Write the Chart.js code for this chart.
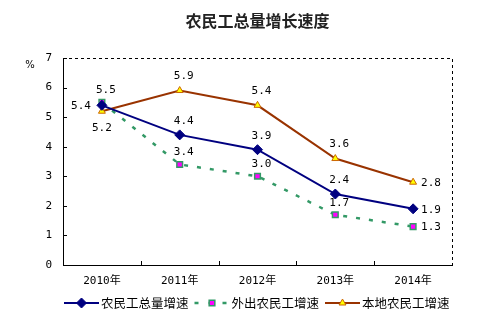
<!DOCTYPE html>
<html>
<head>
<meta charset="utf-8">
<script src="https://cdn.jsdelivr.net/npm/chart.js@4/dist/chart.umd.min.js"></script>
<style>
  html, body { margin: 0; padding: 0; background: #ffffff; }
  #wrap { width: 478px; height: 328px; }
</style>
</head>
<body>
<div id="wrap"><canvas id="c" width="478" height="328"></canvas></div>
<script>
// Growth rates of rural migrant workers, 2010-2014 (%)
const chartTitle = '农民工总量增长速度';
const unitLabel = '%';
const years = ['2010年', '2011年', '2012年', '2013年', '2014年'];
const seriesNames = ['农民工总量增速', '外出农民工增速', '本地农民工增速'];
const totalGrowth = [5.4, 4.4, 3.9, 2.4, 1.9];
const migrantGrowth = [5.5, 3.4, 3.0, 1.7, 1.3];
const localGrowth = [5.2, 5.9, 5.4, 3.6, 2.8];
const yTicks = [0, 1, 2, 3, 4, 5, 6, 7];

// where each value label sits relative to its point
const totalPlace = ['left', 'above', 'above', 'above', 'right'];
const migrantPlace = ['above', 'above', 'above', 'above', 'right'];
const localPlace = ['below', 'above', 'above', 'above', 'right'];

const NUM_FONT = '11px "DejaVu Sans Mono", "Noto Sans CJK SC", monospace';
const CJK_FONT = '12.5px "Noto Sans CJK SC", sans-serif';

const NAVY = '#000080', GREEN = '#339966', MAGENTA = '#ff00ff',
      BROWN = '#993300', YELLOW = '#ffff00', TRI_EDGE = '#cc6600';

const datasets = [
  {
    label: seriesNames[0], data: totalGrowth, place: totalPlace, lift: 14,
    borderColor: NAVY, backgroundColor: NAVY, borderWidth: 2,
    pointStyle: 'rectRot', pointRadius: 5, pointBorderWidth: 1,
    pointBackgroundColor: NAVY, pointBorderColor: NAVY, tension: 0
  },
  {
    label: seriesNames[1], data: migrantGrowth, place: migrantPlace, lift: 12,
    borderColor: GREEN, backgroundColor: GREEN, borderWidth: 2.5, borderDash: [4, 9],
    pointStyle: 'rect', pointRadius: 4, pointBorderWidth: 1.5,
    pointBackgroundColor: MAGENTA, pointBorderColor: GREEN, tension: 0
  },
  {
    label: seriesNames[2], data: localGrowth, place: localPlace, lift: 14,
    borderColor: BROWN, backgroundColor: BROWN, borderWidth: 2,
    pointStyle: 'triangle', pointRadius: 4, pointBorderWidth: 1,
    pointBackgroundColor: YELLOW, pointBorderColor: TRI_EDGE, tension: 0
  }
];

function drawMarker(ctx, ds, x, y) {
  ctx.save();
  ctx.setLineDash([]);
  ctx.lineWidth = ds.pointBorderWidth;
  ctx.fillStyle = ds.pointBackgroundColor;
  ctx.strokeStyle = ds.pointBorderColor;
  Chart.helpers.drawPoint(ctx, { pointStyle: ds.pointStyle, radius: ds.pointRadius, rotation: 0, borderWidth: ds.pointBorderWidth }, x, y);
  ctx.restore();
}

// frame: solid left/bottom axes, dashed top/right edges, short inward ticks
const framePlugin = {
  id: 'frame',
  beforeDatasetsDraw(chart) {
    const { ctx, chartArea: a, scales } = chart;
    ctx.save();
    ctx.strokeStyle = '#000';
    ctx.lineWidth = 1;
    ctx.setLineDash([3, 3]);
    ctx.beginPath();
    ctx.moveTo(a.left, a.top + 0.5);
    ctx.lineTo(a.right + 0.5, a.top + 0.5);
    ctx.lineTo(a.right + 0.5, a.bottom);
    ctx.stroke();
    ctx.setLineDash([]);
    ctx.beginPath();
    ctx.moveTo(a.left + 0.5, a.top);
    ctx.lineTo(a.left + 0.5, a.bottom + 0.5);
    ctx.lineTo(a.right + 1, a.bottom + 0.5);
    // y ticks
    scales.y.ticks.forEach(t => {
      const py = Math.round(scales.y.getPixelForValue(t.value)) + 0.5;
      ctx.moveTo(a.left, py);
      ctx.lineTo(a.left + 4, py);
    });
    // x ticks at category boundaries
    const n = years.length;
    const step = (a.right - a.left) / n;
    for (let i = 1; i < n; i++) {
      const px = Math.round(a.left + step * i) + 0.5;
      ctx.moveTo(px, a.bottom);
      ctx.lineTo(px, a.bottom - 4);
    }
    ctx.stroke();
    ctx.restore();
  }
};

// value labels, title, unit and legend
const textPlugin = {
  id: 'texts',
  afterDatasetsDraw(chart) {
    const { ctx } = chart;
    ctx.save();
    ctx.font = NUM_FONT;
    ctx.fillStyle = '#000';
    chart.data.datasets.forEach((ds, di) => {
      const meta = chart.getDatasetMeta(di);
      meta.data.forEach((pt, i) => {
        const txt = ds.data[i].toFixed(1);
        const p = ds.place[i];
        let x = pt.x, y = pt.y;
        ctx.textBaseline = 'middle';
        if (p === 'above') { ctx.textAlign = 'center'; x += 4; y -= ds.lift; }
        else if (p === 'below') { ctx.textAlign = 'center'; y += 17; }
        else if (p === 'left') { ctx.textAlign = 'right'; x -= 11; y += 1; }
        else { ctx.textAlign = 'left'; x += 8; y += 1; }
        ctx.fillText(txt, x, y);
      });
    });
    ctx.restore();
  },
  afterDraw(chart) {
    const { ctx, chartArea: a } = chart;
    ctx.save();
    // title
    ctx.font = 'bold 16px "Noto Sans CJK SC", sans-serif';
    ctx.fillStyle = '#222';
    ctx.textAlign = 'center';
    ctx.textBaseline = 'middle';
    ctx.fillText(chartTitle, (a.left + a.right) / 2, 21);
    // unit
    ctx.font = '10px "DejaVu Sans", sans-serif';
    ctx.fillStyle = '#000';
    ctx.fillText(unitLabel, 30, 65);
    // legend
    ctx.font = CJK_FONT;
    ctx.textAlign = 'left';
    const ly = 303;
    let x = a.left + 1;
    chart.data.datasets.forEach(ds => {
      const w = 35;
      ctx.save();
      ctx.strokeStyle = ds.borderColor;
      ctx.lineWidth = ds.borderWidth;
      if (ds.borderDash) { ctx.setLineDash([4, 10]); ctx.lineDashOffset = 0; }
      ctx.beginPath();
      ctx.moveTo(x, ly);
      ctx.lineTo(x + w, ly);
      ctx.stroke();
      ctx.restore();
      drawMarker(ctx, ds, x + w / 2, ly);
      ctx.fillStyle = '#000';
      ctx.fillText(ds.label, x + w + 2, ly);
      x += w + 2 + ctx.measureText(ds.label).width + 6;
    });
    ctx.restore();
  }
};

new Chart(document.getElementById('c'), {
  type: 'line',
  data: { labels: years, datasets },
  options: {
    responsive: false,
    devicePixelRatio: 1,
    animation: false,
    layout: { padding: { left: 0, top: 58, right: 26, bottom: 0 } },
    plugins: { legend: { display: false }, title: { display: false }, tooltip: { enabled: false } },
    scales: {
      x: {
        offset: true,
        grid: { display: false, drawTicks: false },
        border: { display: false },
        ticks: { font: { family: '"DejaVu Sans Mono", "Noto Sans CJK SC", monospace', size: 11 }, color: '#000', padding: 10, maxRotation: 0, autoSkip: false },
        afterFit(s) { s.height = 63; }
      },
      y: {
        min: 0, max: 7,
        grid: { display: false, drawTicks: false },
        border: { display: false },
        afterBuildTicks(s) { s.ticks = yTicks.map(v => ({ value: v })); },
        ticks: { font: { family: '"DejaVu Sans Mono", monospace', size: 11 }, color: '#000', padding: 11 },
        afterFit(s) { s.width = 63; }
      }
    }
  },
  plugins: [framePlugin, textPlugin]
});
</script>
</body>
</html>
